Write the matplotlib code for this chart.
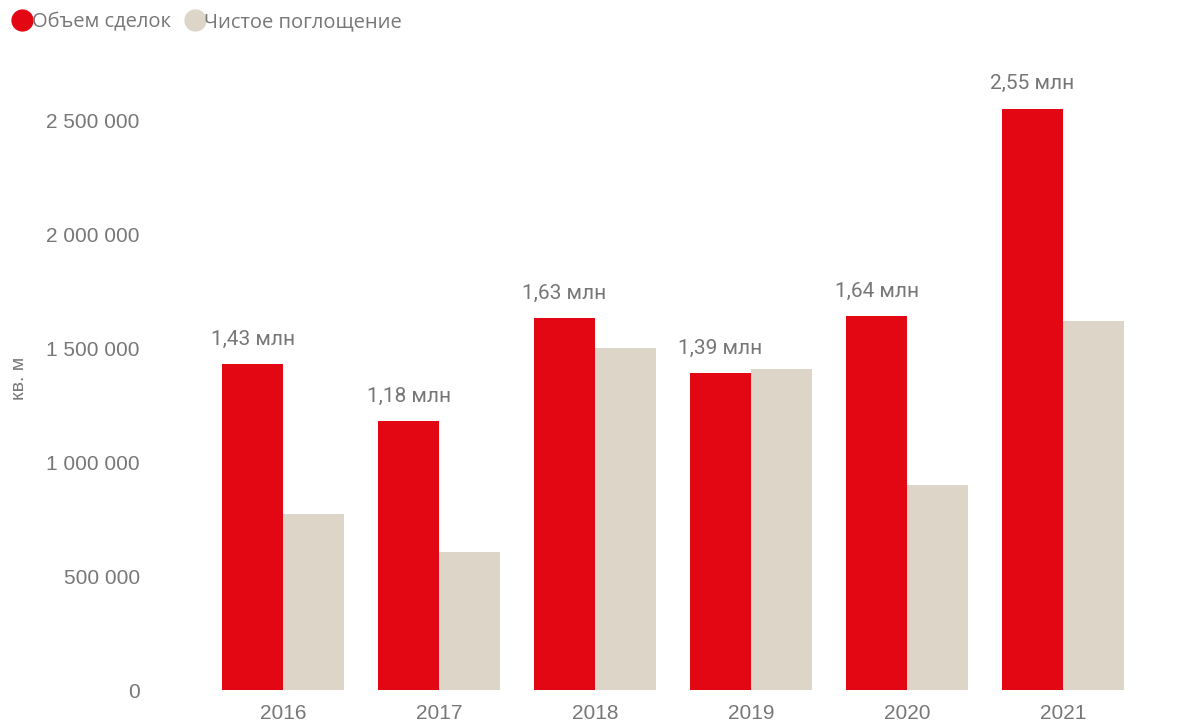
import numpy as np
import matplotlib.pyplot as plt
from matplotlib.lines import Line2D

years = ['2016', '2017', '2018', '2019', '2020', '2021']
deals = [1430000, 1180000, 1630000, 1390000, 1640000, 2550000]
absorption = [770000, 605000, 1500000, 1410000, 900000, 1620000]
deal_labels = ['1,43 млн', '1,18 млн', '1,63 млн', '1,39 млн', '1,64 млн', '2,55 млн']
y_ticks = [0, 500000, 1000000, 1500000, 2000000, 2500000]

red = '#E30613'
beige = '#DCD5C8'
grey = '#777777'

W, H = 1181, 723
fig = plt.figure(figsize=(W / 100, H / 100), dpi=100)
ax = fig.add_axes([205 / W, 33 / H, (1141 - 205) / W, (690 - 60) / H])

x = np.arange(len(years))
w = 0.39
ax.bar(x - w / 2, deals, width=w, color=red)
ax.bar(x + w / 2, absorption, width=w, color=beige)

for xi, v, lab in zip(x, deals, deal_labels):
    ax.annotate(lab, (xi - w / 2, v), xytext=(0, 11), textcoords='offset points',
                ha='center', va='bottom', fontsize=15, color=grey, family='Roboto')

ax.set_xlim(-0.5, len(years) - 0.5)
ax.set_ylim(0, 630 / 0.000228)
ax.set_yticks(y_ticks)
ax.set_yticklabels([f'{t:,}'.replace(',', ' ') for t in y_ticks])
ax.set_xticks(x)
ax.set_xticklabels(years)
ax.tick_params(length=0, labelsize=15, labelcolor=grey)
ax.tick_params(axis='y', pad=47)
ax.tick_params(axis='x', pad=10)
for lbl in ax.get_yticklabels() + ax.get_xticklabels():
    lbl.set_family('Liberation Sans')
for s in ax.spines.values():
    s.set_visible(False)

fig.text(20 / W, 1 - 378 / H, 'кв. м', rotation=90, ha='center', va='center',
         fontsize=14, color=grey, family='Liberation Sans')

handles = [Line2D([], [], marker='o', ls='', color=red, markersize=15),
           Line2D([], [], marker='o', ls='', color=beige, markersize=15)]
fig.legend(handles, ['Объем сделок', 'Чистое поглощение'], loc='upper left',
           bbox_to_anchor=(-0.004, 1.0), ncol=2, frameon=False, handletextpad=-0.3,
           columnspacing=0.45, borderaxespad=0.2, handlelength=1.5,
           prop={'family': 'Open Sans', 'size': 14.5}, labelcolor=grey)

fig.savefig('out.png', dpi=100)
